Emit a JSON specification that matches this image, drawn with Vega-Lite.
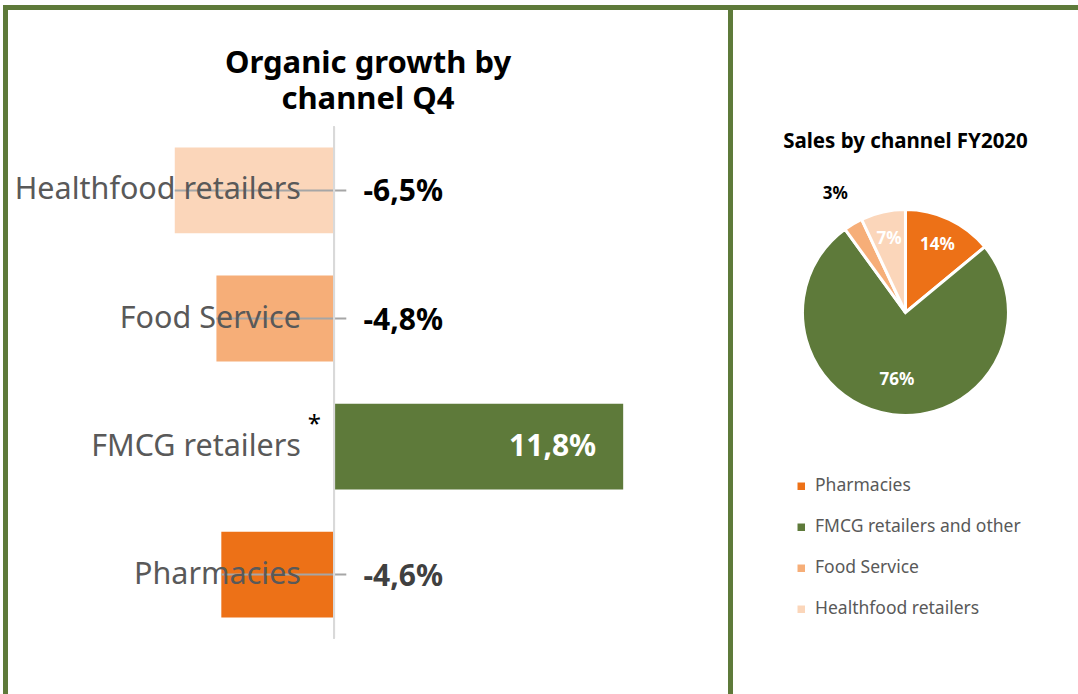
{
  "$schema": "https://vega.github.io/schema/vega-lite/v6.json",
  "padding": {"left": 2.5, "top": 4.5, "right": 0, "bottom": 0},
  "spacing": 0,
  "bounds": "flush",
  "background": "white",
  "config": {
    "font": "Noto Sans",
    "view": {"stroke": "#5E7A3A", "strokeWidth": 5},
    "title": {"color": "#000000"}
  },
  "resolve": {"scale": {"color": "independent"}, "legend": {"color": "independent"}},
  "hconcat": [
    {
      "width": 725,
      "height": 726,
      "title": {
        "text": ["Organic growth by", "channel Q4"],
        "fontSize": 31,
        "fontWeight": "bold",
        "baseline": "middle",
        "lineHeight": 36,
        "offset": -123,
        "dx": 0,
        "anchor": "middle"
      },
      "data": {
        "values": [
          {"channel": "Healthfood retailers", "growth": -6.5, "label": "-6,5%", "note": ""},
          {"channel": "Food Service", "growth": -4.8, "label": "-4,8%", "note": ""},
          {"channel": "FMCG retailers", "growth": 11.8, "label": "11,8%", "note": "*"},
          {"channel": "Pharmacies", "growth": -4.6, "label": "-4,6%", "note": ""}
        ]
      },
      "encoding": {
        "y": {
          "field": "channel",
          "type": "nominal",
          "sort": ["Healthfood retailers", "Food Service", "FMCG retailers", "Pharmacies"],
          "scale": {"paddingInner": 0.33, "paddingOuter": 1, "align": 0.547},
          "axis": null
        }
      },
      "layer": [
        {
          "mark": {"type": "bar"},
          "encoding": {
            "x": {
              "field": "growth",
              "type": "quantitative",
              "scale": {"domain": [-13.408, 16.18], "nice": false, "zero": false},
              "axis": null
            },
            "color": {
              "field": "channel",
              "type": "nominal",
              "scale": {
                "domain": ["Pharmacies", "FMCG retailers", "Food Service", "Healthfood retailers"],
                "range": ["#ED7117", "#5E7A3A", "#F6AE78", "#FBD6BA"]
              },
              "legend": null
            }
          }
        },
        {
          "transform": [{"filter": "datum.growth < 0"}],
          "mark": {"type": "rule", "color": "#A6A6A6", "strokeWidth": 2},
          "encoding": {
            "x": {"field": "growth", "type": "quantitative"},
            "x2": {"datum": 0.5}
          }
        },
        {
          "mark": {"type": "rule", "color": "#D9D9D9", "strokeWidth": 2, "yOffset": -64, "y2Offset": 64},
          "encoding": {
            "x": {"datum": 0},
            "y": {"datum": "Healthfood retailers"},
            "y2": {"datum": "Pharmacies"}
          }
        },
        {
          "mark": {"type": "text", "align": "right", "baseline": "middle", "fontSize": 30.5, "color": "#595959"},
          "encoding": {
            "x": {"datum": -1.35},
            "text": {"field": "channel"}
          }
        },
        {
          "mark": {"type": "text", "align": "center", "baseline": "middle", "fontSize": 24, "color": "#000000", "dy": -22},
          "encoding": {
            "x": {"datum": -0.8},
            "text": {"field": "note"}
          }
        },
        {
          "transform": [{"filter": "datum.growth < 0"}],
          "mark": {"type": "text", "align": "left", "baseline": "middle", "fontSize": 30, "fontWeight": "bold", "dy": 2},
          "encoding": {
            "x": {"datum": 1.2},
            "text": {"field": "label"},
            "color": {"condition": {"test": "datum.channel === 'Pharmacies'", "value": "#404040"}, "value": "#000000"}
          }
        },
        {
          "transform": [{"filter": "datum.growth > 0"}],
          "mark": {"type": "text", "align": "right", "baseline": "middle", "fontSize": 30, "fontWeight": "bold", "color": "white", "dx": -27},
          "encoding": {
            "x": {"field": "growth", "type": "quantitative"},
            "text": {"field": "label"}
          }
        }
      ]
    },
    {
      "width": 360,
      "height": 726,
      "title": {
        "text": "Sales by channel FY2020",
        "fontSize": 20.5,
        "fontWeight": "bold",
        "baseline": "middle",
        "offset": -155,
        "dx": -5,
        "anchor": "middle"
      },
      "data": {
        "values": [
          {"channel": "Pharmacies", "share": 14, "label": "14%", "rank": 1},
          {"channel": "FMCG retailers and other", "share": 76, "label": "76%", "rank": 2},
          {"channel": "Food Service", "share": 3, "label": "3%", "rank": 3},
          {"channel": "Healthfood retailers", "share": 7, "label": "7%", "rank": 4}
        ]
      },
      "encoding": {
        "theta": {"field": "share", "type": "quantitative", "stack": true},
        "order": {"field": "rank", "type": "quantitative"},
        "x": {"datum": 0.486, "type": "quantitative", "scale": {"domain": [0, 1]}, "axis": null},
        "y": {"datum": 0.5799, "type": "quantitative", "scale": {"domain": [0, 1]}, "axis": null}
      },
      "layer": [
        {
          "mark": {"type": "arc", "radius": 103, "stroke": "white", "strokeWidth": 3},
          "encoding": {
            "color": {
              "field": "channel",
              "type": "nominal",
              "scale": {
                "domain": ["Pharmacies", "FMCG retailers and other", "Food Service", "Healthfood retailers"],
                "range": ["#ED7117", "#5E7A3A", "#F6AE78", "#FBD6BA"]
              },
              "legend": {
                "orient": "none",
                "legendX": 62,
                "legendY": 470,
                "title": null,
                "symbolType": "square",
                "symbolSize": 56,
                "symbolStrokeWidth": 0,
                "labelFontSize": 17.5,
                "labelColor": "#595959",
                "labelOffset": 5,
                "labelLimit": 400,
                "rowPadding": 22
              }
            }
          }
        },
        {
          "mark": {"type": "text", "radius": 75, "fontSize": 17, "fontWeight": "bold", "color": "white", "baseline": "middle"},
          "encoding": {
            "text": {"condition": {"test": "datum.rank === 1 || datum.rank === 4", "field": "label"}, "value": ""}
          }
        },
        {
          "mark": {"type": "text", "radius": 68, "fontSize": 17, "fontWeight": "bold", "color": "white", "baseline": "middle"},
          "encoding": {
            "text": {"condition": {"test": "datum.rank === 2", "field": "label"}, "value": ""}
          }
        },
        {
          "mark": {"type": "text", "radius": 138, "fontSize": 17, "fontWeight": "bold", "color": "#000000", "baseline": "middle"},
          "encoding": {
            "text": {"condition": {"test": "datum.rank === 3", "field": "label"}, "value": ""}
          }
        }
      ]
    }
  ]
}
